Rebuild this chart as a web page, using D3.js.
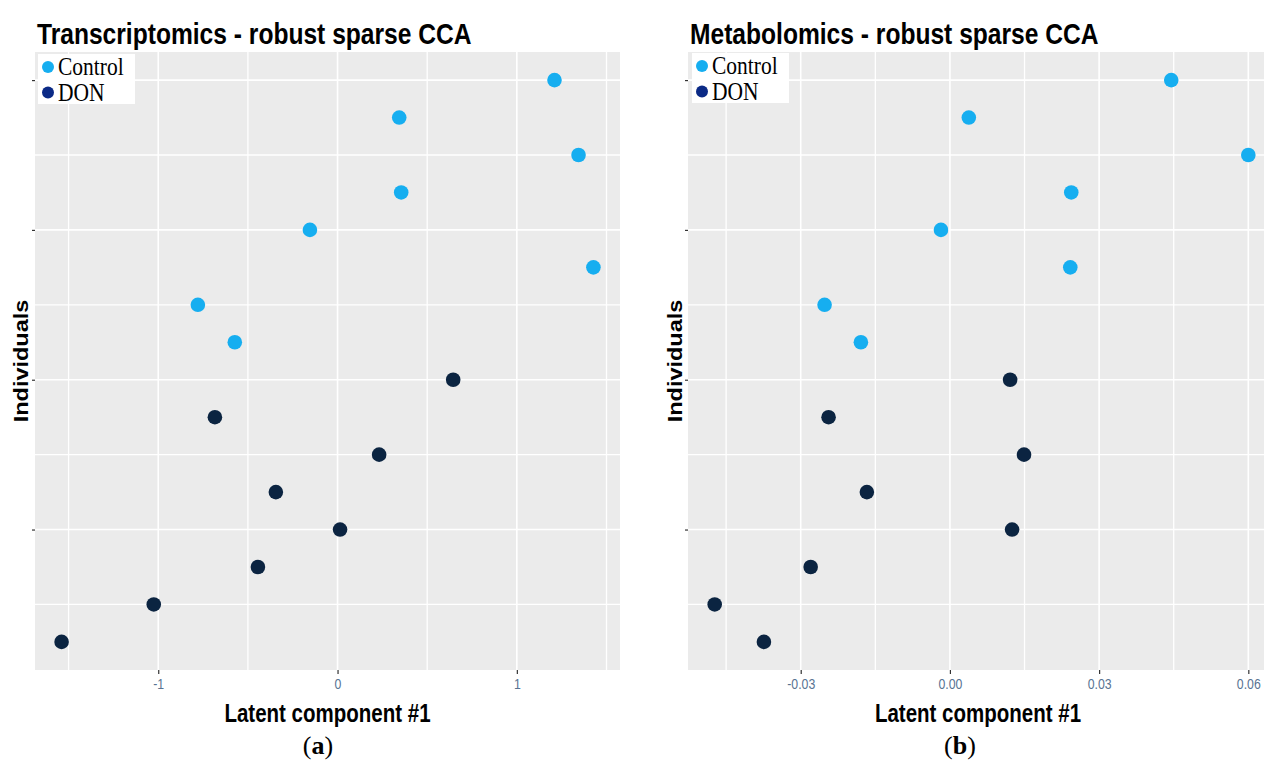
<!DOCTYPE html>
<html><head><meta charset="utf-8">
<script src="https://cdn.jsdelivr.net/npm/d3@7/dist/d3.min.js"></script>
<style>body{margin:0;background:#fff}svg{display:block}</style>
</head><body>
<svg id="chart" width="1264" height="765"></svg>
<script>
// ---- data (individuals listed from top row to bottom row) ----
const individuals = [16,15,14,13,12,11,10,9,8,7,6,5,4,3,2,1];
const groups = ["Control","Control","Control","Control","Control","Control","Control","Control",
                "DON","DON","DON","DON","DON","DON","DON","DON"];
const transcriptomics = [1.21,0.344,1.344,0.355,-0.154,1.427,-0.779,-0.573,
                         0.645,-0.684,0.232,-0.344,0.014,-0.444,-1.025,-1.539];
const metabolomics = [0.0445,0.0038,0.0600,0.0244,-0.0018,0.0242,-0.0252,-0.0179,
                      0.0121,-0.0244,0.0149,-0.0167,0.0125,-0.0280,-0.0473,-0.0374];
const legendLabels = ["Control","DON"];
const transTicks = [-1,0,1];
const transTickLabels = ["-1","0","1"];
const transMinor = [-1.5,-0.5,0.5,1.5];
const metaTicks = [-0.03,0,0.03,0.06];
const metaTickLabels = ["-0.03","0.00","0.03","0.06"];
const metaMinor = [-0.045,-0.015,0.015,0.045];
const yTicks = [4,8,12,16];
const yMinor = [2,6,10,14];
const titles = ["Transcriptomics - robust sparse CCA","Metabolomics - robust sparse CCA"];
const xTitle = "Latent component #1";
const yTitle = "Individuals";
const panelTags = ["a","b"];

const pointColor = {Control:"#16aef0", DON:"#0b2441"};
const legendColor = {Control:"#16aef0", DON:"#0b2a86"};

const svg = d3.select("#chart");

function panel(cfg){
  const {x0,x1,y0,y1,values,ticks,tickLabels,minor,title,tag,tagX,legX,legY,ylabX,lab} = cfg;
  const ext = d3.extent(values), pad = (ext[1]-ext[0])*0.05;
  const x = d3.scaleLinear().domain([ext[0]-pad, ext[1]+pad]).range([x0,x1]);
  const y = d3.scaleLinear().domain([0.25,16.75]).range([y1,y0]);
  const g = svg.append("g");
  g.append("rect").attr("x",x0).attr("y",y0).attr("width",x1-x0).attr("height",y1-y0).attr("fill","#ebebeb");
  // grid
  g.selectAll(".vmin").data(minor).join("line").attr("x1",d=>x(d)).attr("x2",d=>x(d))
    .attr("y1",y0).attr("y2",y1).attr("stroke","#fff").attr("stroke-width",1.3);
  g.selectAll(".vmaj").data(ticks).join("line").attr("x1",d=>x(d)).attr("x2",d=>x(d))
    .attr("y1",y0).attr("y2",y1).attr("stroke","#fff").attr("stroke-width",1.6);
  g.selectAll(".hmin").data(yMinor).join("line").attr("y1",d=>y(d)).attr("y2",d=>y(d))
    .attr("x1",x0).attr("x2",x1).attr("stroke","#fff").attr("stroke-width",1.3);
  g.selectAll(".hmaj").data(yTicks).join("line").attr("y1",d=>y(d)).attr("y2",d=>y(d))
    .attr("x1",x0).attr("x2",x1).attr("stroke","#fff").attr("stroke-width",1.6);
  // x axis
  const xa = d3.axisBottom(x).tickValues(ticks).tickFormat((d,i)=>tickLabels[i]).tickSize(4).tickPadding(4);
  const xg = g.append("g").attr("transform",`translate(0,${y1})`).call(xa);
  xg.attr("font-size",null).attr("font-family",null);
  xg.select(".domain").remove();
  xg.selectAll(".tick line").attr("stroke","#333").attr("stroke-width",1.2);
  xg.selectAll(".tick text").attr("fill","#587392")
    .style("font-family","'Liberation Sans', Arial, sans-serif").style("font-size","15px")
    .attr("dy",0).attr("y",19).attr("text-anchor","middle")
    .attr("transform","scale(0.82,1)");
  // y axis (ticks only)
  const ya = d3.axisLeft(y).tickValues(yTicks).tickFormat("").tickSize(3);
  const yg = g.append("g").attr("transform",`translate(${x0},0)`).call(ya);
  yg.select(".domain").remove();
  yg.selectAll(".tick line").attr("stroke","#333").attr("stroke-width",1.2);
  // points
  g.selectAll(".pt").data(values).join("circle")
    .attr("cx",d=>x(d)).attr("cy",(d,i)=>y(individuals[i])).attr("r",7.3)
    .attr("fill",(d,i)=>pointColor[groups[i]]);
  // legend
  g.append("rect").attr("x",legX).attr("y",legY).attr("width",97).attr("height",50).attr("fill","#fff");
  legendLabels.forEach((lbl,i)=>{
    g.append("circle").attr("cx",legX+10).attr("cy",legY+13+i*25.5).attr("r",6).attr("fill",legendColor[lbl]);
    g.append("text").attr("transform",`translate(${legX+20},${legY+21+i*25.5}) scale(0.86,1)`)
      .attr("font-family","Liberation Serif, Times New Roman, serif").attr("font-size",25)
      .attr("fill","#000").text(lbl);
  });
  // titles
  g.append("text").attr("transform",`translate(${x0+2},44) scale(0.82,1)`)
    .attr("font-family","Liberation Sans, Arial, sans-serif").attr("font-weight","bold")
    .attr("font-size",30).attr("fill","#000").text(title);
  g.append("text").attr("transform",`translate(${(x0+Math.min(x1,1262))/2+lab},722) scale(0.82,1)`)
    .attr("text-anchor","middle")
    .attr("font-family","Liberation Sans, Arial, sans-serif").attr("font-weight","bold")
    .attr("font-size",25).attr("fill","#000").text(xTitle);
  g.append("text").attr("transform",`translate(${ylabX},${(y0+y1)/2}) rotate(-90) scale(1,0.85)`)
    .attr("text-anchor","middle")
    .attr("font-family","Liberation Sans, Arial, sans-serif").attr("font-weight","bold")
    .attr("font-size",23.5).attr("fill","#000").text(yTitle);
  const tg = g.append("text").attr("x",tagX).attr("y",754).attr("text-anchor","middle")
    .attr("font-family","Liberation Serif, Times New Roman, serif").attr("font-size",26).attr("fill","#000");
  tg.append("tspan").text("(");
  tg.append("tspan").attr("font-weight","bold").text(tag);
  tg.append("tspan").text(")");
}

panel({x0:35,x1:620,y0:52,y1:670,values:transcriptomics,ticks:transTicks,tickLabels:transTickLabels,minor:transMinor,
       title:titles[0],tag:panelTags[0],tagX:318,legX:38,legY:54,ylabX:28,lab:0});
panel({x0:688,x1:1275,y0:52,y1:670,values:metabolomics,ticks:metaTicks,tickLabels:metaTickLabels,minor:metaMinor,
       title:titles[1],tag:panelTags[1],tagX:960,legX:692,legY:53,ylabX:682,lab:3});
</script>
</body></html>
